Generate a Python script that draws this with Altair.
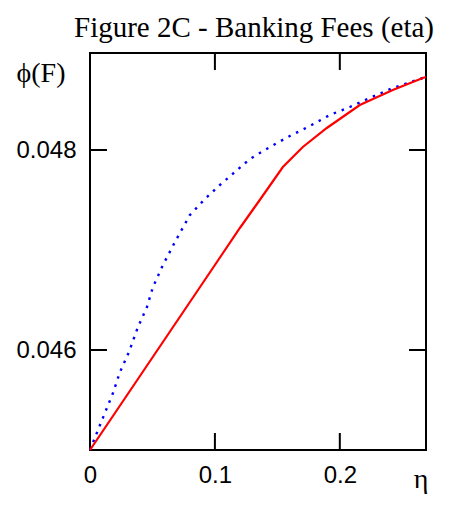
import altair as alt
import pandas as pd

# Data
red_eta = [0.0, 0.02, 0.04, 0.06, 0.08, 0.10, 0.12, 0.1376, 0.1544, 0.1704, 0.1896, 0.216, 0.2424, 0.2664, 0.269]
red_phi = [0.04500, 0.04537, 0.04574, 0.04611, 0.04648, 0.04685, 0.04722, 0.04753, 0.04783, 0.04803, 0.04822, 0.04845, 0.04860, 0.04872, 0.04873]

blue_eta = [0.0, 0.008, 0.0184, 0.024, 0.0312, 0.0384, 0.0456, 0.0504, 0.0584, 0.068, 0.08, 0.092, 0.104, 0.128, 0.144, 0.16, 0.176, 0.192, 0.208, 0.224, 0.2424, 0.2664, 0.269]
blue_phi = [0.04500, 0.04525, 0.04557, 0.04578, 0.04598, 0.04623, 0.04643, 0.04663, 0.04685, 0.04708, 0.04735, 0.04751, 0.04765, 0.04791, 0.04803, 0.04814, 0.04824, 0.04835, 0.04843, 0.04852, 0.04862, 0.04872, 0.04873]

x_ticks = [0.1, 0.2]
y_ticks = [0.046, 0.048]
x_labels = [0, 0.1, 0.2]
x_domain = [0.0, 0.269]
y_domain = [0.045, 0.04897]

title_text = "Figure 2C - Banking Fees (eta)"
y_label = "ϕ(F)"
x_label = "η"

W, H = 336, 397
TICK = 17

red_df = pd.DataFrame({"eta": red_eta, "phi": red_phi})
blue_df = pd.DataFrame({"eta": blue_eta, "phi": blue_phi})
xt_df = pd.DataFrame({"v": x_ticks})
yt_df = pd.DataFrame({"v": y_ticks})

xs = alt.Scale(domain=x_domain, nice=False, zero=False)
ys = alt.Scale(domain=y_domain, nice=False, zero=False)

label_font = "Liberation Sans"
serif = "Liberation Serif"

x_enc = alt.X("eta:Q", scale=xs, axis=alt.Axis(values=x_labels, format=".1~f", title=None,
                                               ticks=False, domain=False, grid=False,
                                               labelFont=label_font, labelFontSize=24, labelColor="black",
                                               labelPadding=13, labelFlush=False))
y_enc = alt.Y("phi:Q", scale=ys, axis=alt.Axis(values=y_ticks, format=".3f", title=None,
                                               ticks=False, domain=False, grid=False,
                                               labelFont=label_font, labelFontSize=24, labelColor="black",
                                               labelPadding=14))

blue = alt.Chart(blue_df).mark_line(color="#0000ff", strokeWidth=2.4, strokeDash=[2.5, 6]).encode(x=x_enc, y=y_enc)
red = alt.Chart(red_df).mark_line(color="#ff0000", strokeWidth=2.2).encode(x="eta:Q", y="phi:Q")

tick_style = dict(color="black", strokeWidth=2)
bottom_ticks = alt.Chart(xt_df).mark_rule(**tick_style).encode(
    x=alt.X("v:Q", scale=xs), y=alt.value(H), y2=alt.value(H - TICK))
top_ticks = alt.Chart(xt_df).mark_rule(**tick_style).encode(
    x=alt.X("v:Q", scale=xs), y=alt.value(0), y2=alt.value(TICK))
left_ticks = alt.Chart(yt_df).mark_rule(**tick_style).encode(
    y=alt.Y("v:Q", scale=ys), x=alt.value(0), x2=alt.value(TICK))
right_ticks = alt.Chart(yt_df).mark_rule(**tick_style).encode(
    y=alt.Y("v:Q", scale=ys), x=alt.value(W), x2=alt.value(W - TICK))

title = alt.Chart(pd.DataFrame({"t": [title_text]})).mark_text(
    font=serif, fontSize=29, align="center", baseline="alphabetic", color="black").encode(
    text="t:N", x=alt.value(W / 2 - 4), y=alt.value(-16))
ylab = alt.Chart(pd.DataFrame({"t": [y_label]})).mark_text(
    font=serif, fontSize=28, align="center", baseline="alphabetic", color="black").encode(
    text="t:N", x=alt.value(-49), y=alt.value(29))
xlab = alt.Chart(pd.DataFrame({"t": [x_label]})).mark_text(
    font=serif, fontSize=28, align="center", baseline="alphabetic", color="black").encode(
    text="t:N", x=alt.value(331), y=alt.value(435))

chart = alt.layer(blue, red, bottom_ticks, top_ticks, left_ticks, right_ticks, title, ylab, xlab).properties(
    width=W, height=H,
    background="white",
    autosize=alt.AutoSizeParams(type="none"),
    padding={"left": 82, "top": 45, "right": 16, "bottom": 48},
).configure_view(stroke="black", strokeWidth=2)

chart.save("out.html", embed_options={"renderer": "svg", "actions": False})
